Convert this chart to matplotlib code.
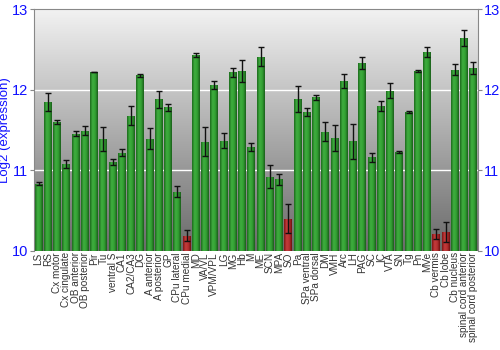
import numpy as np
import matplotlib.pyplot as plt
from matplotlib.colors import LinearSegmentedColormap

plt.rcParams["font.family"] = ["Liberation Sans", "DejaVu Sans"]

regions = ["LS", "RS", "Cx motor", "Cx cingulate", "OB anterior", "OB posterior", "Pir", "Tu",
           "ventral S", "CA1", "CA2/CA3", "DG", "A anterior", "A posterior", "GP", "CPu lateral",
           "CPu medial", "MD", "VA/VL", "VPM/VPL", "LG", "MG", "Hb", "M", "ME", "SCN", "MPA", "SO",
           "Pa", "SPa ventral", "SPa dorsal", "DM", "VMH", "Arc", "LH", "PAG", "SC", "IC", "VTA",
           "SN", "Tg", "Pn", "MVe", "Cb vermis", "Cb lobe", "Cb nucleus", "spinal cord anterior",
           "spinal cord posterior"]
expr = [10.835, 11.85, 11.60, 11.08, 11.455, 11.49, 12.22, 11.39,
        11.10, 11.22, 11.68, 12.18, 11.39, 11.88, 11.78, 10.735,
        10.19, 12.43, 11.355, 12.06, 11.37, 12.215, 12.23, 11.29, 12.41, 10.92, 10.89, 10.40,
        11.88, 11.72, 11.905, 11.48, 11.40, 12.11, 11.36, 12.33, 11.16, 11.80, 11.99,
        11.23, 11.72, 12.23, 12.47, 10.21, 10.23, 12.25, 12.645,
        12.27]
err = [0.02, 0.11, 0.03, 0.05, 0.027, 0.055, 0.005, 0.15,
       0.04, 0.04, 0.12, 0.02, 0.13, 0.11, 0.04, 0.07,
       0.07, 0.025, 0.18, 0.05, 0.09, 0.06, 0.14, 0.05, 0.115, 0.14, 0.07, 0.18,
       0.16, 0.05, 0.035, 0.115, 0.16, 0.085, 0.22, 0.07, 0.055, 0.065, 0.095,
       0.015, 0.015, 0.01, 0.065, 0.06, 0.125, 0.07, 0.1,
       0.075]
low = ["CPu medial", "SO", "Cb vermis", "Cb lobe"]

BLUE = "#1010ff"
green_cm = LinearSegmentedColormap.from_list("g", ["#1d6b1d", "#3fae3f", "#33a033", "#1a5e1a"])
red_cm = LinearSegmentedColormap.from_list("r", ["#7e1414", "#c43c3c", "#b53030", "#701010"])
bg_cm = LinearSegmentedColormap.from_list("bg", ["#f2f2f2", "#6a6a6a"])

fig = plt.figure(figsize=(5, 3.5), dpi=100)
ax = fig.add_axes([0.068, 0.283, 0.888, 0.691])

x = np.arange(len(regions))
ax.set_xlim(-0.5, len(regions) - 0.5)
ax.set_ylim(10, 13)

# vertical background shading
ax.imshow(np.linspace(0, 1, 256).reshape(-1, 1), cmap=bg_cm, aspect="auto",
          extent=[0, 1, 0, 1], transform=ax.transAxes, zorder=0)
for yv in (11, 12):
    ax.axhline(yv, color="white", lw=1.0, zorder=1)

bars = ax.bar(x, np.array(expr) - 10, bottom=10, width=0.86, color="none", zorder=2)
strip = np.linspace(0, 1, 64).reshape(1, -1)
for name, b in zip(regions, bars):
    cm = red_cm if name in low else green_cm
    x0, y0 = b.get_x(), b.get_y()
    im = ax.imshow(strip, cmap=cm, aspect="auto", zorder=2,
                   extent=[x0, x0 + b.get_width(), y0, y0 + b.get_height()])
    im.set_clip_path(b)

ax.errorbar(x, expr, yerr=err, fmt="none", ecolor="#111111", elinewidth=1.0,
            capsize=2, capthick=1.0, zorder=3)

for s in ax.spines.values():
    s.set_color("#888888")
ax.spines["bottom"].set_visible(False)

ax.set_yticks([10, 11, 12, 13])
ax.tick_params(axis="y", colors="#888888", labelcolor=BLUE, labelsize=10.5, length=3, pad=1,
               right=True, labelright=True)
ax.set_xticks(x)
ax.set_xticklabels(regions, rotation=90, fontsize=7.2, color="#333333")
ax.tick_params(axis="x", length=0, pad=1)
ax.set_ylabel("Log2 (expression)", color=BLUE, fontsize=9.5)
ax.yaxis.set_label_coords(-0.052, 0.5)

fig.savefig("out.png", dpi=100)
